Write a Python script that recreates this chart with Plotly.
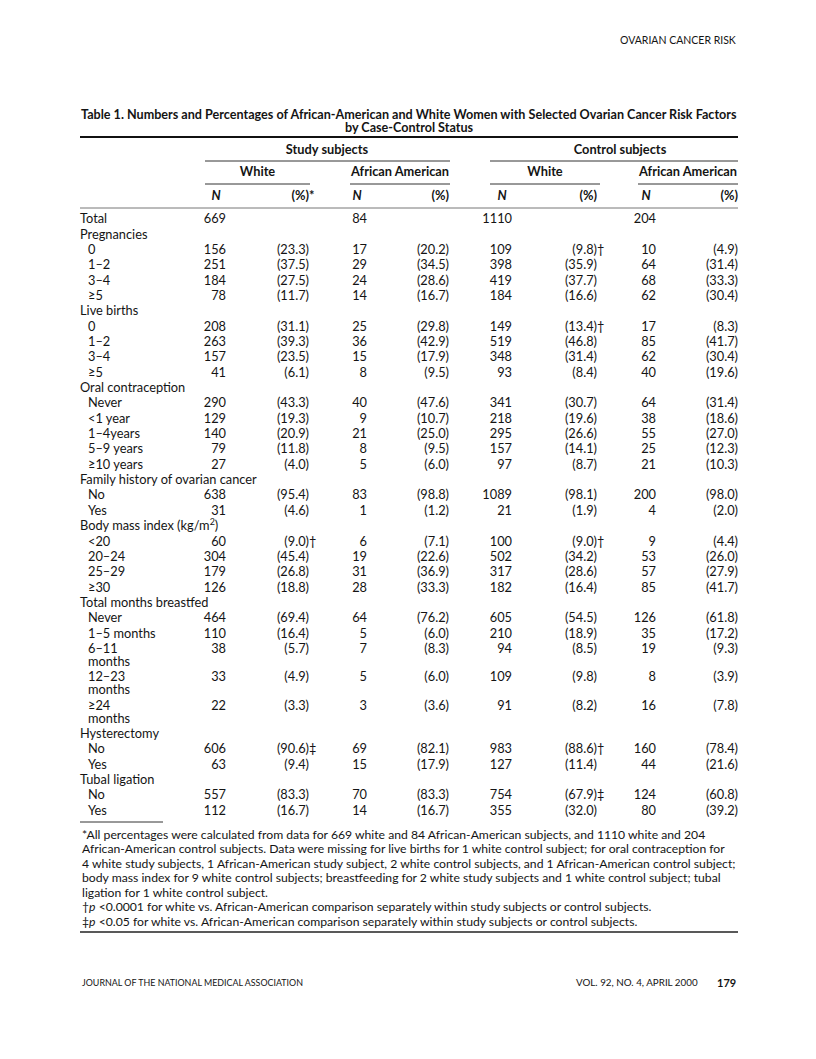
import plotly.graph_objects as go

# ---------------- data ----------------
row_labels = ["Total", "Pregnancies", "0", "1–2", "3–4", "≥5",
              "Live births", "0", "1–2", "3–4", "≥5",
              "Oral contraception", "Never", "<1 year", "1–4years", "5–9 years", "≥10 years",
              "Family history of ovarian cancer", "No", "Yes",
              "Body mass index (kg/m<sup>2</sup>)", "<20", "20–24", "25–29", "≥30",
              "Total months breastfed", "Never", "1–5 months", "6–11\nmonths", "12–23\nmonths", "≥24\nmonths",
              "Hysterectomy", "No", "Yes",
              "Tubal ligation", "No", "Yes"]
row_level = [0, 0, 1, 1, 1, 1,
             0, 1, 1, 1, 1,
             0, 1, 1, 1, 1, 1,
             0, 1, 1,
             0, 1, 1, 1, 1,
             0, 1, 1, 1, 1, 1,
             0, 1, 1,
             0, 1, 1]

sw_n = [669, None, 156, 251, 184, 78, None, 208, 263, 157, 41, None, 290, 129, 140, 79, 27,
        None, 638, 31, None, 60, 304, 179, 126, None, 464, 110, 38, 33, 22, None, 606, 63, None, 557, 112]
sw_pct = [None, None, 23.3, 37.5, 27.5, 11.7, None, 31.1, 39.3, 23.5, 6.1, None, 43.3, 19.3, 20.9, 11.8, 4.0,
          None, 95.4, 4.6, None, 9.0, 45.4, 26.8, 18.8, None, 69.4, 16.4, 5.7, 4.9, 3.3, None, 90.6, 9.4, None, 83.3, 16.7]
sa_n = [84, None, 17, 29, 24, 14, None, 25, 36, 15, 8, None, 40, 9, 21, 8, 5,
        None, 83, 1, None, 6, 19, 31, 28, None, 64, 5, 7, 5, 3, None, 69, 15, None, 70, 14]
sa_pct = [None, None, 20.2, 34.5, 28.6, 16.7, None, 29.8, 42.9, 17.9, 9.5, None, 47.6, 10.7, 25.0, 9.5, 6.0,
          None, 98.8, 1.2, None, 7.1, 22.6, 36.9, 33.3, None, 76.2, 6.0, 8.3, 6.0, 3.6, None, 82.1, 17.9, None, 83.3, 16.7]
cw_n = [1110, None, 109, 398, 419, 184, None, 149, 519, 348, 93, None, 341, 218, 295, 157, 97,
        None, 1089, 21, None, 100, 502, 317, 182, None, 605, 210, 94, 109, 91, None, 983, 127, None, 754, 355]
cw_pct = [None, None, 9.8, 35.9, 37.7, 16.6, None, 13.4, 46.8, 31.4, 8.4, None, 30.7, 19.6, 26.6, 14.1, 8.7,
          None, 98.1, 1.9, None, 9.0, 34.2, 28.6, 16.4, None, 54.5, 18.9, 8.5, 9.8, 8.2, None, 88.6, 11.4, None, 67.9, 32.0]
ca_n = [204, None, 10, 64, 68, 62, None, 17, 85, 62, 40, None, 64, 38, 55, 25, 21,
        None, 200, 4, None, 9, 53, 57, 85, None, 126, 35, 19, 8, 16, None, 160, 44, None, 124, 80]
ca_pct = [None, None, 4.9, 31.4, 33.3, 30.4, None, 8.3, 41.7, 30.4, 19.6, None, 31.4, 18.6, 27.0, 12.3, 10.3,
          None, 98.0, 2.0, None, 4.4, 26.0, 27.9, 41.7, None, 61.8, 17.2, 9.3, 3.9, 7.8, None, 78.4, 21.6, None, 60.8, 39.2]
# significance marks (row index -> mark)
sw_marks = {21: "†", 32: "‡"}
sa_marks = {}
cw_marks = {2: "†", 7: "†", 21: "†", 32: "†", 35: "‡"}
ca_marks = {}

groups = ["Study subjects", "Control subjects"]
subgroups = ["White", "African American", "White", "African American"]

title_lines = ["Table 1. Numbers and Percentages of African-American and White Women with Selected Ovarian Cancer Risk Factors",
               "by Case-Control Status"]
footnotes = [
    "*All percentages were calculated from data for 669 white and 84 African-American subjects, and 1110 white and 204",
    "African-American control subjects. Data were missing for live births for 1 white control subject; for oral contraception for",
    "4 white study subjects, 1 African-American study subject, 2 white control subjects, and 1 African-American control subject;",
    "body mass index for 9 white control subjects; breastfeeding for 2 white study subjects and 1 white control subject; tubal",
    "ligation for 1 white control subject.",
    "†<i>p</i> <0.0001 for white vs. African-American comparison separately within study subjects or control subjects.",
    "‡<i>p</i> <0.05 for white vs. African-American comparison separately within study subjects or control subjects.",
]
running_head = "OVARIAN CANCER RISK"
footer_left = "JOURNAL OF THE NATIONAL MEDICAL ASSOCIATION"
footer_mid = "VOL. 92, NO. 4, APRIL 2000"
footer_page = "179"

# ---------------- layout constants (page pixels) ----------------
W, H = 800, 1043          # page body has an 8px margin; axes map data units to page pixels
OFF = 8
FONT = "Lato"
INK = "#141414"
LEFT, RIGHT = 80, 738
n_right = [226, 367, 512, 656]
p_right = [309, 449, 597, 738]
sub_span = [(205, 310), (350, 450), (490, 600), (638, 738)]
grp_span = [(205, 450), (490, 738)]
grp_center = [327, 620]
Y0, PITCH, WRAP = 220, 15.35, 13.0
BODY = 12.8

# compute row positions
row_y, cont_y, cont_txt = [], [], []
y = Y0
for lab in row_labels:
    parts = lab.split("\n")
    row_y.append(y)
    for extra in parts[1:]:
        y += WRAP
        cont_y.append(y)
        cont_txt.append(extra)
    y += PITCH

fig = go.Figure()
font = dict(family=FONT, size=BODY, color=INK)

def text_trace(xs, ys, txt, pos, f=font):
    fig.add_trace(go.Scatter(x=xs, y=ys, mode="text", text=txt, textposition=pos, textfont=f,
                             hoverinfo="skip", showlegend=False))

# row labels
text_trace([LEFT + 8 * lv for lv in row_level], row_y, [l.split("\n")[0] for l in row_labels], "middle right")
text_trace([LEFT + 8] * len(cont_y), cont_y, cont_txt, "middle right")

cols = [(sw_n, sw_pct, sw_marks), (sa_n, sa_pct, sa_marks), (cw_n, cw_pct, cw_marks), (ca_n, ca_pct, ca_marks)]
for k, (ns, ps, marks) in enumerate(cols):
    idx = [i for i, v in enumerate(ns) if v is not None]
    text_trace([n_right[k]] * len(idx), [row_y[i] for i in idx], [str(ns[i]) for i in idx], "middle left")
    idx = [i for i, v in enumerate(ps) if v is not None]
    text_trace([p_right[k]] * len(idx), [row_y[i] for i in idx], [f"({ps[i]:.1f})" for i in idx], "middle left")
    if marks:
        text_trace([p_right[k]] * len(marks), [row_y[i] for i in marks], list(marks.values()), "middle right")

# column headers
text_trace(grp_center, [151, 151], [f"<b>{g}</b>" for g in groups], "middle center")
text_trace([(a + b) / 2 for a, b in sub_span], [173] * 4, [f"<b>{s}</b>" for s in subgroups], "middle center")
text_trace([r - 10 for r in n_right], [197] * 4, ["<b><i>N</i></b>"] * 4, "middle center")
text_trace(p_right, [197] * 4, ["<b>(%)</b>"] * 4, "middle left")
text_trace([p_right[0]], [197], ["<b>*</b>"], "middle right")

# rules
def rule(x0, x1, yy, w=1.0, c="#333333"):
    fig.add_shape(type="line", xref="x", yref="y", x0=x0, x1=x1, y0=yy, y1=yy, line=dict(color=c, width=w))

rule(LEFT, RIGHT, 137, 1.8, "#111111")
for a, b in grp_span:
    rule(a, b, 161, 1.0)
for a, b in sub_span:
    rule(a, b, 184, 1.0)
rule(LEFT, RIGHT, 208, 1.0, "#777777")
rule(LEFT, 163, 822, 1.0, "#333333")
rule(LEFT, RIGHT, 932, 1.5, "#222222")

# titles, footnotes, running head, footer
for i, t in enumerate(title_lines):
    fig.add_annotation(x=(LEFT + RIGHT) / 2, y=114 + 13 * i, xref="x", yref="y", text=f"<b>{t}</b>",
                       showarrow=False, xanchor="center", yanchor="middle",
                       font=dict(family=FONT, size=12.6, color=INK))
for i, t in enumerate(footnotes):
    fig.add_annotation(x=LEFT, y=834 + 14.5 * i, xref="x", yref="y", text=t, showarrow=False,
                       xanchor="left", yanchor="middle", font=dict(family=FONT, size=12.2, color=INK))
fig.add_annotation(x=RIGHT, y=40, xref="x", yref="y", text=running_head, showarrow=False,
                   xanchor="right", yanchor="middle", font=dict(family=FONT, size=10.5, color=INK))
fig.add_annotation(x=LEFT, y=982, xref="x", yref="y", text=footer_left, showarrow=False,
                   xanchor="left", yanchor="middle", font=dict(family=FONT, size=8.9, color=INK))
fig.add_annotation(x=700, y=982, xref="x", yref="y", text=footer_mid, showarrow=False,
                   xanchor="right", yanchor="middle", font=dict(family=FONT, size=9.8, color=INK))
fig.add_annotation(x=RIGHT, y=982, xref="x", yref="y", text=f"<b>{footer_page}</b>", showarrow=False,
                   xanchor="right", yanchor="middle", font=dict(family=FONT, size=11, color=INK))

fig.update_layout(width=W, height=H, autosize=False, margin=dict(l=0, r=0, t=0, b=0),
                  paper_bgcolor="white", plot_bgcolor="white", showlegend=False,
                  xaxis=dict(range=[OFF, OFF + W], visible=False, fixedrange=True),
                  yaxis=dict(range=[OFF + H, OFF], visible=False, fixedrange=True))
fig.write_html("out.html")
